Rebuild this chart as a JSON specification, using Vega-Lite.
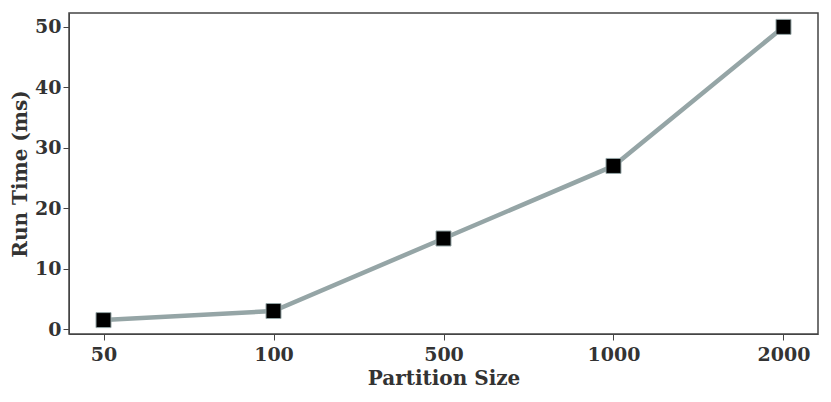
{
  "$schema": "https://vega.github.io/schema/vega-lite/v6.json",
  "autosize": {"type": "none"},
  "padding": {"left": 69, "top": 13, "right": 13, "bottom": 68},
  "width": 749,
  "height": 321,
  "background": "white",
  "config": {
    "view": {"stroke": "#444", "strokeWidth": 1.5},
    "font": "DejaVu Serif",
    "axis": {
      "labelFont": "DejaVu Serif",
      "titleFont": "DejaVu Serif",
      "labelFontWeight": "bold",
      "titleFontWeight": "bold",
      "labelFontSize": 19,
      "titleFontSize": 20,
      "labelColor": "#333",
      "titleColor": "#333",
      "domainColor": "#444",
      "tickColor": "#444",
      "tickSize": 6,
      "grid": false
    }
  },
  "data": {
    "values": [
      {"size": "50", "time": 1.5},
      {"size": "100", "time": 3},
      {"size": "500", "time": 15},
      {"size": "1000", "time": 27},
      {"size": "2000", "time": 50}
    ]
  },
  "encoding": {
    "x": {
      "field": "size", "type": "ordinal", "sort": null,
      "scale": {"type": "point", "padding": 0.203},
      "axis": {"title": "Partition Size", "labelAngle": 0, "labelPadding": 5, "titlePadding": 4}
    },
    "y": {
      "field": "time", "type": "quantitative",
      "scale": {"domain": [-0.8, 52.3], "nice": false, "zero": false},
      "axis": {"title": "Run Time (ms)", "values": [0, 10, 20, 30, 40, 50], "labelPadding": 2, "titlePadding": 4}
    }
  },
  "layer": [
    {"mark": {"type": "line", "color": "#95a5a6", "strokeWidth": 4.5}},
    {"mark": {"type": "point", "shape": "square", "filled": true, "fill": "black", "stroke": "#95a5a6", "strokeWidth": 1, "size": 225, "opacity": 1}}
  ]
}
